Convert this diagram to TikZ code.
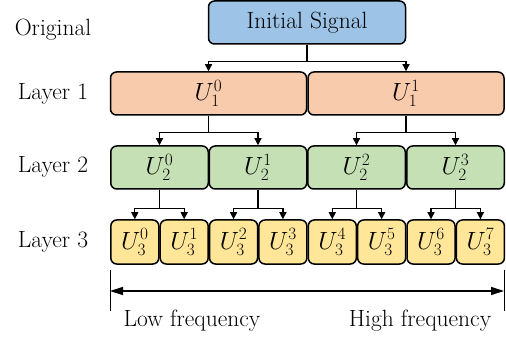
\documentclass[tikz,border=0pt]{standalone}
\usepackage{amsmath}
\usetikzlibrary{arrows.meta}
\definecolor{cblue}{HTML}{9DC3E6}
\definecolor{corange}{HTML}{F8CBAD}
\definecolor{cgreen}{HTML}{C5E0B4}
\definecolor{cyellow}{HTML}{FFE699}
\newcommand\uu[2]{$U^{#2}_{#1}$}
\begin{document}
\begin{tikzpicture}[x=1pt,y=-1pt,
  font=\fontsize{23.5}{27}\selectfont,
  box/.style={draw, line width=1.5pt, rounded corners=6pt, inner sep=0pt, minimum height=43pt},
  arr/.style={line width=1.2pt, -{Triangle[length=7pt,width=7pt]}},
  lbl/.style={inner sep=0pt}]
\useasboundingbox (0,0) rectangle (506,339);
% Initial
\node[box, fill=cblue, minimum width=197pt] (init) at (307,22.5) {Initial Signal};
% Layer 1
\foreach \i/\x in {0/208.5,1/406} {
  \node[box, fill=corange, minimum width=196pt] (a\i) at (\x,93.5) {\uu{1}{\i}};
}
% Layer 2
\foreach \i/\x in {0/159.5,1/258,2/356.5,3/455.5} {
  \node[box, fill=cgreen, minimum width=97.5pt] (b\i) at (\x,167.5) {\uu{2}{\i}};
}
% Layer 3
\foreach \i in {0,...,7} {
  \node[box, fill=cyellow, minimum width=48pt, minimum height=44pt] (c\i) at ({134.8+49.37*\i},242) {\uu{3}{\i}};
}
% connectors
\draw[arr] (init.south) -- ++(0,17) -| (a0.north);
\draw[arr] (init.south) -- ++(0,17) -| (a1.north);
\draw[arr] (a0.south) -- ++(0,17) -| (b0.north);
\draw[arr] (a0.south) -- ++(0,17) -| (b1.north);
\draw[arr] (a1.south) -- ++(0,17) -| (b2.north);
\draw[arr] (a1.south) -- ++(0,17) -| (b3.north);
\foreach \p/\l/\r in {0/0/1,1/2/3,2/4/5,3/6/7} {
  \draw[arr] (b\p.south) -- ++(0,18.5) -| (c\l.north);
  \draw[arr] (b\p.south) -- ++(0,18.5) -| (c\r.north);
}
% row labels
\node[lbl] (lo) at (53,30) {Original};
\node[lbl] (l1) at (53,94) {Layer 1};
\node[lbl] (l2) at (53,167) {Layer 2};
\node[lbl] (l3) at (53,242) {Layer 3};
% frequency axis
\coordinate (lt) at (110,270);
\coordinate (lb) at (110,311);
\coordinate (rt) at (504,270);
\coordinate (rb) at (504,311);
\coordinate (la) at (110,291);
\coordinate (ra) at (504,291);
\draw[line width=1pt] (lt) -- (lb);
\draw[line width=1pt] (rt) -- (rb);
\draw[line width=1.3pt, {Triangle[length=13pt,width=8pt]}-{Triangle[length=13pt,width=8pt]}] (la) -- (ra);
\node[lbl] (low) at (192,321) {Low frequency};
\node[lbl] (high) at (420,321) {High frequency};
\end{tikzpicture}
\end{document}
